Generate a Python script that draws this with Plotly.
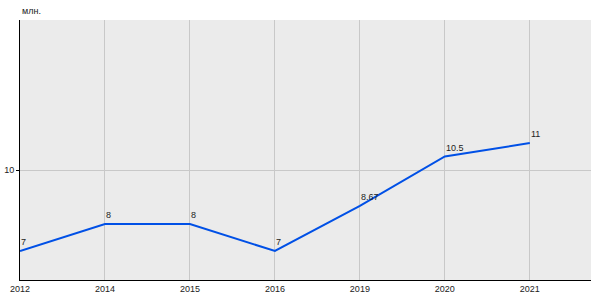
import plotly.graph_objects as go

years = ["2012", "2014", "2015", "2016", "2019", "2020", "2021"]
values = [7, 8, 8, 7, 8.67, 10.5, 11]
labels = ["7", "8", "8", "7", "8.67", "10.5", "11"]
y_ticks = [10]
unit = "млн."

xs = list(range(len(years)))

fig = go.Figure()
fig.add_trace(go.Scatter(
    x=xs, y=values, mode="lines",
    line=dict(color="#0050e6", width=2),
    cliponaxis=False, hoverinfo="skip",
))
annotations = [dict(text=unit, x=0, y=1, xref="paper", yref="paper",
                    xanchor="left", yanchor="bottom", yshift=2, showarrow=False,
                    font=dict(size=9, color="#222222"))]
for xi, v, lab in zip(xs, values, labels):
    annotations.append(dict(text=lab, x=xi, y=v, xref="x", yref="y",
                            xanchor="left", yanchor="bottom", xshift=-1, yshift=2,
                            showarrow=False, font=dict(size=9, color="#222222")))
fig.update_layout(
    width=600, height=300,
    margin=dict(l=20, r=9, t=20, b=20),
    paper_bgcolor="white", plot_bgcolor="#ebebeb",
    showlegend=False,
    font=dict(family="Liberation Sans, Arial", size=9, color="#222222"),
    annotations=annotations,
)
fig.update_xaxes(
    range=[0, 6.72], tickvals=xs, ticktext=years, automargin=False,
    showgrid=True, gridcolor="#c8c8c8", gridwidth=1,
    showline=True, linecolor="black", linewidth=1,
    ticks="", zeroline=False, ticklen=0,
)
fig.update_yaxes(
    range=[5.926, 15.556], tickvals=y_ticks, automargin=False,
    showgrid=True, gridcolor="#c8c8c8", gridwidth=1,
    showline=True, linecolor="black", linewidth=1,
    ticks="outside", ticklen=3, tickcolor="black", zeroline=False,
)
fig.write_html("out.html")
